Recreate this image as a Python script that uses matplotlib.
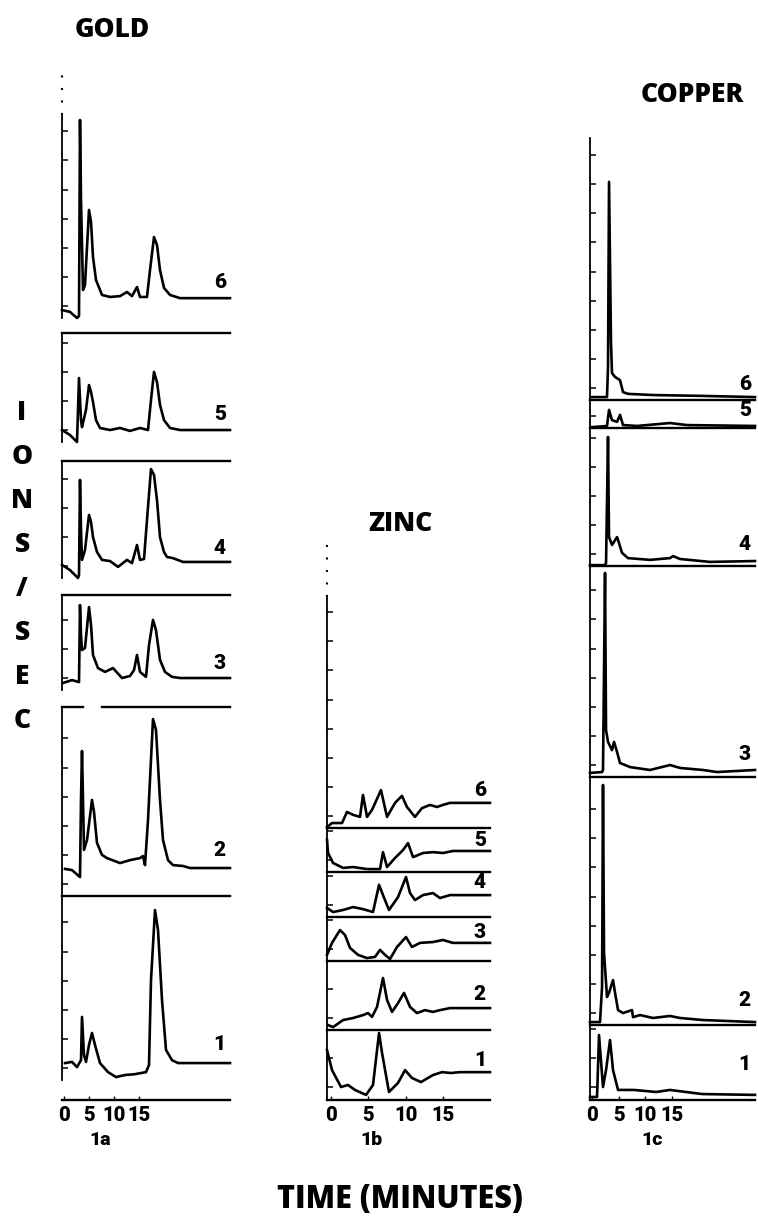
import numpy as np
import matplotlib.pyplot as plt

W, H = 758, 1226
PX = 29.2  # pixels per intensity tick on the left axes

# retention time (min) and signal (tick units above each panel floor)
au6_t = [-0.4, 1.2, 2.6, 3.0, 3.2, 3.4, 3.8, 4.2, 5.0, 5.4, 5.8, 6.4, 7.6, 9.2, 11.2, 12.6, 13.6, 14.6, 15.2, 16.6, 17.2, 18.0, 18.6, 19.2, 20.0, 21.2, 23.2, 33.2]
au6_i = [0.27, 0.21, 0, 0.07, 6.78, 4.04, 0.96, 1.13, 3.7, 3.29, 2.09, 1.3, 0.79, 0.72, 0.75, 0.89, 0.75, 1.06, 0.72, 0.72, 1.64, 2.77, 2.5, 1.64, 1.03, 0.79, 0.68, 0.68]
au5_t = [-0.4, 1.2, 2.6, 3.0, 3.4, 3.6, 4.4, 5.0, 5.4, 5.8, 6.4, 7.2, 9.2, 11.2, 13.2, 15.2, 16.8, 17.4, 18.0, 18.6, 19.2, 20.0, 21.2, 23.2, 33.2]
au5_i = [0.41, 0.24, 0, 2.19, 0.75, 0.51, 1.1, 1.95, 1.71, 1.37, 0.75, 0.48, 0.41, 0.48, 0.38, 0.48, 0.41, 1.44, 2.4, 2.05, 1.27, 0.75, 0.48, 0.41, 0.41]
au4_t = [-0.4, 1.2, 2.8, 3.0, 3.2, 3.4, 3.6, 4.2, 5.0, 5.4, 5.8, 6.6, 7.6, 9.2, 10.8, 12.6, 13.6, 14.6, 15.2, 16.0, 16.6, 17.4, 18.0, 18.6, 19.2, 20.0, 20.6, 21.8, 23.8, 33.2]
au4_i = [0.45, 0.27, 0, 0.1, 3.36, 1.64, 0.62, 0.96, 2.16, 1.92, 1.4, 0.89, 0.62, 0.58, 0.38, 0.62, 0.51, 1.13, 0.62, 0.65, 1.99, 3.73, 3.53, 2.67, 1.4, 0.89, 0.72, 0.68, 0.55, 0.55]
au3_t = [-0.2, 1.6, 3.0, 3.2, 3.4, 3.6, 4.2, 5.0, 5.4, 5.8, 6.8, 8.2, 9.8, 11.6, 13.2, 14.0, 14.6, 15.2, 16.4, 17.0, 17.8, 18.4, 19.2, 20.2, 21.6, 23.2, 33.2]
au3_i = [0.24, 0.34, 0.27, 2.91, 1.88, 1.37, 1.44, 2.84, 2.23, 1.2, 0.75, 0.62, 0.75, 0.41, 0.48, 0.68, 1.2, 0.62, 0.45, 1.54, 2.4, 2.05, 1.03, 0.62, 0.45, 0.41, 0.41]
au2_t = [0.2, 1.6, 3.2, 3.4, 3.6, 3.8, 4.0, 4.6, 5.6, 6.0, 6.6, 7.6, 8.6, 11.2, 13.2, 15.2, 15.8, 16.2, 16.8, 17.8, 18.4, 19.2, 19.8, 20.8, 21.8, 23.8, 25.2, 33.2]
au2_i = [0.38, 0.34, 0.1, 2.74, 4.42, 2.74, 1.03, 1.37, 2.74, 2.33, 1.27, 0.86, 0.75, 0.58, 0.68, 0.75, 0.82, 0.51, 2.05, 5.51, 5.14, 2.74, 1.37, 0.68, 0.51, 0.48, 0.41, 0.41]
au1_t = [0.2, 1.6, 2.6, 3.4, 3.6, 4.0, 4.4, 5.0, 5.6, 6.2, 7.2, 8.8, 10.4, 12.2, 14.2, 16.4, 17.0, 17.4, 18.2, 18.8, 19.6, 20.4, 21.6, 22.8, 33.2]
au1_i = [0.58, 0.62, 0.44, 0.68, 2.16, 0.85, 0.62, 1.2, 1.61, 1.2, 0.58, 0.27, 0.1, 0.17, 0.2, 0.27, 0.51, 3.42, 5.82, 5.14, 2.74, 1.03, 0.68, 0.58, 0.58]

zn6_t = [-0.54, 0.13, 1.47, 2.14, 2.95, 3.88, 4.28, 4.82, 5.49, 6.69, 7.5, 8.57, 9.5, 10.17, 11.24, 12.18, 13.25, 14.19, 14.99, 15.93, 21.29]
zn6_i = [0.03, 0.17, 0.17, 0.55, 0.45, 0.38, 1.13, 0.38, 0.62, 1.3, 0.38, 0.86, 1.1, 0.72, 0.38, 0.68, 0.79, 0.72, 0.79, 0.86, 0.86]
zn5_t = [-0.54, -0.4, 0.27, 1.61, 2.95, 4.82, 6.56, 6.96, 7.5, 8.57, 9.64, 10.31, 10.98, 12.32, 13.65, 14.99, 16.33, 21.29]
zn5_i = [1.1, 0.65, 0.31, 0.14, 0.17, 0.1, 0.1, 0.68, 0.17, 0.48, 0.75, 0.99, 0.51, 0.65, 0.68, 0.65, 0.72, 0.72]
zn4_t = [-0.54, 0.27, 1.61, 2.95, 4.28, 5.62, 6.43, 6.96, 7.76, 8.97, 10.04, 10.58, 11.24, 12.32, 13.65, 14.59, 15.93, 21.29]
zn4_i = [0.31, 0.17, 0.24, 0.34, 0.27, 0.17, 1.1, 0.75, 0.24, 0.68, 1.37, 0.82, 0.58, 0.75, 0.82, 0.65, 0.75, 0.75]
zn3_t = [-0.54, 0.13, 1.2, 1.87, 2.54, 3.61, 4.82, 5.89, 6.56, 7.23, 7.9, 8.84, 10.04, 10.84, 11.91, 13.65, 14.99, 16.33, 21.29]
zn3_i = [0.21, 0.62, 1.06, 0.89, 0.45, 0.21, 0.1, 0.14, 0.38, 0.21, 0.07, 0.48, 0.82, 0.48, 0.62, 0.65, 0.72, 0.62, 0.62]
zn2_t = [-0.4, 0.27, 1.61, 2.95, 4.28, 4.95, 5.49, 6.16, 6.96, 7.5, 8.17, 8.97, 9.77, 10.58, 11.51, 12.58, 13.65, 14.59, 15.93, 21.29]
zn2_i = [0.17, 0.1, 0.34, 0.41, 0.51, 0.58, 0.45, 0.79, 1.78, 1.03, 0.62, 0.92, 1.27, 0.79, 0.58, 0.68, 0.62, 0.68, 0.75, 0.75]
zn1_t = [-0.54, 0.13, 1.34, 2.28, 3.21, 4.69, 5.62, 6.43, 6.83, 7.76, 8.97, 9.91, 10.84, 12.05, 13.65, 14.86, 16.06, 17.27, 21.29]
zn1_i = [1.68, 0.99, 0.41, 0.48, 0.31, 0.14, 0.48, 2.26, 1.58, 0.24, 0.55, 0.99, 0.72, 0.58, 0.82, 0.92, 0.89, 0.92, 0.92]

cu6_t = [0, 2.81, 3.0, 3.19, 3.56, 3.75, 4.32, 5.25, 5.82, 6.75, 11.44, 20.83, 30.58]
cu6_i = [0.1, 0.1, 1.13, 7.47, 1.95, 0.92, 0.79, 0.68, 0.27, 0.21, 0.17, 0.14, 0.1]
cu5_t = [0, 2.81, 3.19, 3.75, 4.69, 5.25, 5.82, 8.44, 14.63, 17.82, 30.58]
cu5_i = [0.03, 0.07, 0.62, 0.27, 0.21, 0.45, 0.1, 0.07, 0.17, 0.1, 0.07]
cu4_t = [-0.38, 2.44, 2.63, 3.0, 3.19, 3.75, 4.69, 4.88, 5.63, 6.75, 10.88, 14.63, 15.2, 16.51, 22.14, 30.58]
cu4_i = [0.03, 0.03, 0.1, 4.42, 0.99, 0.72, 0.99, 0.89, 0.45, 0.27, 0.21, 0.27, 0.34, 0.24, 0.14, 0.17]
cu3_t = [-0.38, 1.88, 2.06, 2.44, 2.63, 3.0, 3.75, 4.13, 4.69, 5.25, 7.13, 10.88, 14.63, 16.51, 20.83, 23.45, 30.58]
cu3_i = [0.14, 0.17, 0.24, 6.99, 1.61, 1.2, 0.92, 1.2, 0.86, 0.48, 0.34, 0.24, 0.41, 0.31, 0.24, 0.17, 0.24]
cu2_t = [-0.38, 1.5, 1.88, 2.06, 2.25, 2.81, 3.19, 3.94, 4.32, 4.88, 5.82, 7.5, 7.69, 9.01, 11.44, 14.63, 16.51, 20.83, 30.58]
cu2_i = [0.1, 0.1, 1.3, 8.22, 2.47, 0.96, 1.1, 1.54, 1.1, 0.51, 0.41, 0.51, 0.27, 0.34, 0.24, 0.31, 0.24, 0.17, 0.1]
cu1_t = [-0.38, 0.94, 1.31, 2.06, 2.63, 3.38, 3.94, 4.88, 7.88, 12.01, 14.63, 20.64, 30.58]
cu1_i = [0.07, 0.07, 2.19, 0.41, 0.99, 2.02, 0.99, 0.31, 0.31, 0.24, 0.31, 0.17, 0.14]

# recorded time window of each column (min)
gold_range = (-0.4, 33.2)
zinc_range = (-0.54, 21.29)
copper_range = (-0.38, 30.58)

time_ticks = [0, 5, 10, 15]
panel_labels = [6, 5, 4, 3, 2, 1]
metals = ["GOLD", "ZINC", "COPPER"]
sub_labels = ["1a", "1b", "1c"]

NUM_FONT = ["Roboto", "DejaVu Sans"]
TITLE_FONT = ["Open Sans", "DejaVu Sans"]

fig = plt.figure(figsize=(W / 100, H / 100), dpi=100)


def px_axes(left, right, top, bottom):
    return fig.add_axes([left / W, 1 - bottom / H, (right - left) / W, (bottom - top) / H])


def panel(left, right, top, bottom, ref, xr, t, sig, num, lbl_px, top_line=True):
    ax = px_axes(left, right, top, bottom)
    ax.patch.set_alpha(0)
    ax.plot(t, sig, color="black", lw=1.9, solid_joinstyle="round", clip_on=False)
    ax.set_xlim(*xr)
    lo, hi = (ref - bottom) / PX, (ref - top) / PX
    ax.set_ylim(lo, hi)
    ax.spines["right"].set_visible(False)
    ax.spines["bottom"].set_visible(False)
    ax.spines["top"].set_visible(top_line)
    ax.spines["left"].set_linewidth(1.3)
    ax.spines["top"].set_linewidth(1.7)
    ax.set_xticks([])
    ax.set_yticks(np.arange(lo + 0.4, hi - 0.1, 1))
    ax.tick_params(axis="y", direction="in", length=4, width=1.1, labelleft=False)
    ax.text(0.975, (ref - lbl_px) / PX, str(num), ha="right", va="center",
            transform=ax.get_yaxis_transform(), fontsize=15, fontweight="black",
            family=NUM_FONT)
    return ax


def time_axis(left, right, y, xr):
    ax = px_axes(left, right, y - 0.5, y + 0.5)
    ax.patch.set_alpha(0)
    for s in ["left", "right", "top"]:
        ax.spines[s].set_visible(False)
    ax.spines["bottom"].set_linewidth(1.7)
    ax.set_xlim(*xr)
    ax.set_yticks([])
    ax.set_xticks(time_ticks)
    ax.set_xticklabels([str(v) for v in time_ticks], fontsize=14.5, fontweight="black",
                       family=NUM_FONT)
    ax.tick_params(axis="x", direction="in", length=3, width=1, pad=5)
    return ax


# ---------------- GOLD
gold = [(au6_t, au6_i), (au5_t, au5_i), (au4_t, au4_i), (au3_t, au3_i), (au2_t, au2_i), (au1_t, au1_i)]
gold_box = [(115, 318, 318), (333, 442, 442), (461, 578, 578), (595, 690, 690), (707, 896, 880), (896, 1080, 1080)]
gold_lbl = [283, 415, 548, 663, 850, 1045]
for k, ((t, s), (tp, bt, rf), lp) in enumerate(zip(gold, gold_box, gold_lbl)):
    ax = panel(62, 230, tp, bt, rf, gold_range, t, s, panel_labels[k], lp, top_line=(k not in (0, 4)))
    if k == 0:
        ax.axvline(gold_range[0], ymin=1.0, ymax=1.22, color="black", lw=1.5, ls=(0, (1, 5)), clip_on=False)
    if k == 4:
        ax.axhline(ax.get_ylim()[1], 0, 0.125, color="black", lw=1.7, clip_on=False)
        ax.axhline(ax.get_ylim()[1], 0.238, 1, color="black", lw=1.7, clip_on=False)
time_axis(62, 230, 1099, gold_range)

# ---------------- ZINC
zinc = [(zn6_t, zn6_i), (zn5_t, zn5_i), (zn4_t, zn4_i), (zn3_t, zn3_i), (zn2_t, zn2_i), (zn1_t, zn1_i)]
zinc_box = [(597, 828, 828), (828, 872, 872), (872, 917, 917), (917, 961, 961), (961, 1030, 1030), (1030, 1099, 1099)]
zinc_lbl = [790, 840, 882, 933, 995, 1060]
for k, ((t, s), (tp, bt, rf), lp) in enumerate(zip(zinc, zinc_box, zinc_lbl)):
    ax = panel(327, 490, tp, bt, rf, zinc_range, t, s, panel_labels[k], lp, top_line=(k != 0))
    if k == 0:
        ax.axvline(zinc_range[0], ymin=1.0, ymax=1.25, color="black", lw=1.5, ls=(0, (1, 5)), clip_on=False)
time_axis(327, 490, 1099, zinc_range)

# ---------------- COPPER
copper = [(cu6_t, cu6_i), (cu5_t, cu5_i), (cu4_t, cu4_i), (cu3_t, cu3_i), (cu2_t, cu2_i), (cu1_t, cu1_i)]
copper_box = [(138, 400, 400), (400, 428, 428), (428, 566, 566), (566, 777, 777), (777, 1025, 1025), (1025, 1099, 1099)]
copper_lbl = [385, 410, 545, 755, 1000, 1065]
for k, ((t, s), (tp, bt, rf), lp) in enumerate(zip(copper, copper_box, copper_lbl)):
    panel(590, 755, tp, bt, rf, copper_range, t, s, panel_labels[k], lp, top_line=(k != 0))
time_axis(590, 755, 1099, copper_range)

# ---------------- titles and axis words
title_pos = [(112, 30), (400, 524), (692, 95)]
for name, (x, y) in zip(metals, title_pos):
    fig.text(x / W, 1 - y / H, name, ha="center", va="center", fontsize=19,
             fontweight="heavy", family=TITLE_FONT)

sub_pos = [100, 372, 652]
for name, x in zip(sub_labels, sub_pos):
    fig.text(x / W, 1 - 1140 / H, name, ha="center", va="center", fontsize=14,
             fontweight="black", family=NUM_FONT)

for k, ch in enumerate("IONS/SEC"):
    fig.text(22 / W, 1 - (413 + k * 44) / H, ch, ha="center", va="center", fontsize=19,
             fontweight="heavy", family=TITLE_FONT)

fig.text(400 / W, 1 - 1200 / H, "TIME (MINUTES)", ha="center", va="center", fontsize=22,
         fontweight="heavy", family=TITLE_FONT)

fig.savefig("out.png", dpi=100)
